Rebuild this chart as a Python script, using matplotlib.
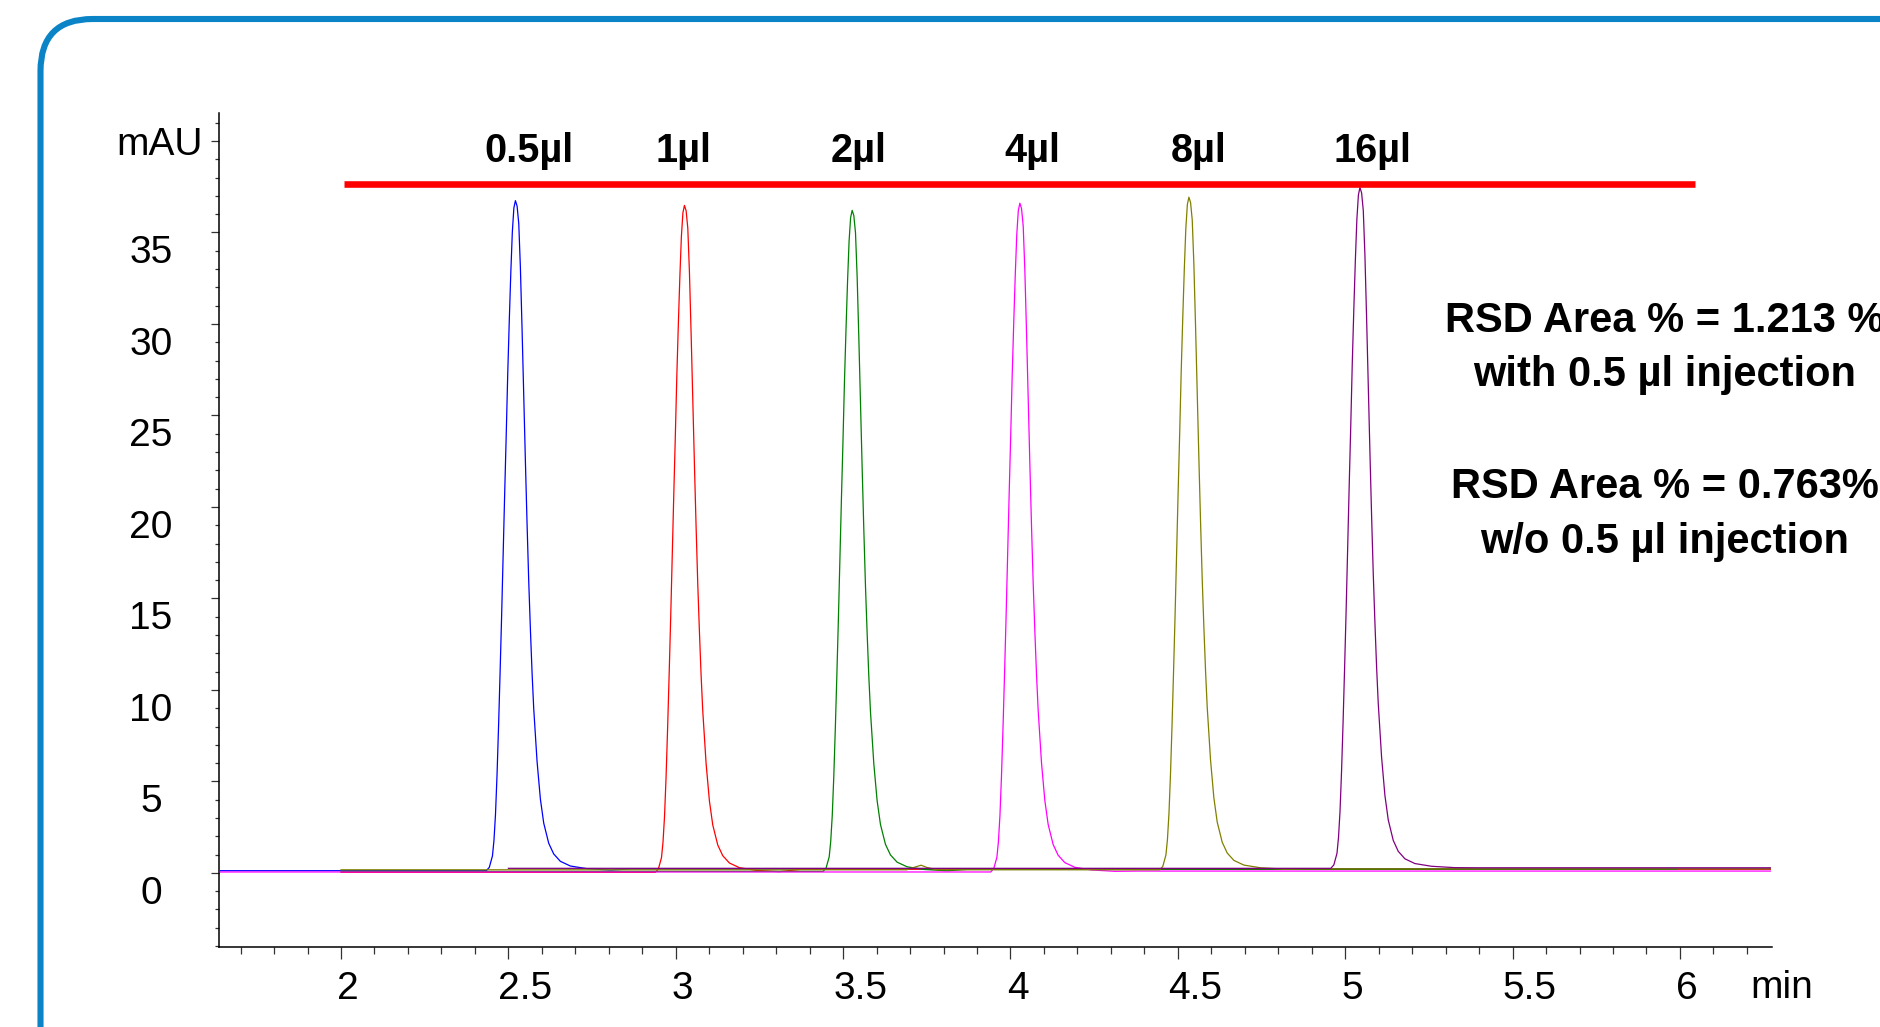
import matplotlib
matplotlib.use('Agg')
import matplotlib.pyplot as plt
from matplotlib.patches import FancyBboxPatch
from matplotlib.transforms import Affine2D, IdentityTransform
from matplotlib.ticker import MultipleLocator, FixedLocator

W, H = 1880, 1027

# ---------------- data ----------------
trace_colors = ['#0000ff', '#ff0000', '#008000', '#ff00ff', '#808000', '#800080']
injection_labels = ['0.5µl', '1µl', '2µl', '4µl', '8µl', '16µl']
apex_times = [2.521, 3.026, 3.527, 4.028, 4.533, 5.044]        # min
apex_heights = [36.74, 36.48, 36.21, 36.60, 36.93, 37.46]      # mAU
trace_starts = [1.64, 2.00, 2.00, 1.64, 2.00, 2.50]
trace_ends = [6.27, 6.27, 5.99, 6.27, 6.27, 6.27]
baseline_before = [0.12, 0.03, 0.08, 0.05, 0.17, 0.25]
baseline_after = [0.22, 0.20, 0.20, 0.10, 0.22, 0.28]

# peak shape: time from apex (min), fraction of peak height
profile_offsets = [-0.0870, -0.0780, -0.0686, -0.0641, -0.0595, -0.0549, -0.0503,
                   -0.0458, -0.0412, -0.0366, -0.0320, -0.0275, -0.0229, -0.0183,
                   -0.0137, -0.0092, -0.0046, 0.0000,
                   0.0050, 0.0100, 0.0149, 0.0199, 0.0249, 0.0299, 0.0348, 0.0398,
                   0.0448, 0.0498, 0.0547, 0.0647, 0.0746, 0.0846, 0.0995, 0.1144,
                   0.1343, 0.1642, 0.2139, 0.2836]
profile_fraction = [0.000, 0.005, 0.022, 0.045, 0.084, 0.143, 0.216,
                    0.295, 0.380, 0.472, 0.564, 0.649, 0.742, 0.821,
                    0.893, 0.953, 0.989, 1.000,
                    0.992, 0.966, 0.900, 0.808, 0.709, 0.610, 0.518, 0.432,
                    0.360, 0.295, 0.242, 0.163, 0.107, 0.071, 0.041, 0.025,
                    0.014, 0.007, 0.003, 0.001]

# small baseline bump seen on the olive trace
bump_times = [3.69, 3.715, 3.733, 3.75, 3.78]
bump_values = [0.17, 0.32, 0.42, 0.30, 0.17]

label_times = [2.560, 3.022, 3.545, 4.064, 4.561, 5.080]
label_level = 38.85
marker_bar_times = [2.01, 6.046]
marker_bar_level = 37.64

x_major = [2, 2.5, 3, 3.5, 4, 4.5, 5, 5.5, 6]
x_labels = ['2', '2.5', '3', '3.5', '4', '4.5', '5', '5.5', '6']
y_major = [0, 5, 10, 15, 20, 25, 30, 35, 40]
y_labels = ['0', '5', '10', '15', '20', '25', '30', '35', 'mAU']

rsd_lines = ['RSD Area % = 1.213 %', 'with 0.5 µl injection',
             'RSD Area % = 0.763%', 'w/o 0.5 µl injection']

# ---------------- figure ----------------
plt.rcParams['font.family'] = ['Liberation Sans', 'DejaVu Sans']
fig = plt.figure(figsize=(W / 100, H / 100), dpi=100)
fig.patch.set_facecolor('white')

def px(x, y):
    return x / W, 1 - y / H

# rounded blue frame (runs off the right and bottom edges)
frame = FancyBboxPatch((40.5, -300), 2200, (H - 19) + 300,
                       boxstyle='round,pad=0,rounding_size=52',
                       transform=IdentityTransform(), facecolor='none',
                       edgecolor='#0A84C6', linewidth=4.4)
fig.patches.append(frame)

ax_left, ax_right, ax_top, ax_bottom = 219, 1772, 113, 947
ax = fig.add_axes([ax_left / W, (H - ax_bottom) / H,
                   (ax_right - ax_left) / W, (ax_bottom - ax_top) / H])
ax.set_facecolor('none')
ax.set_xlim(1.6355, 6.275)
ax.set_ylim(-4.05, 41.53)

for sp in ['top', 'right']:
    ax.spines[sp].set_visible(False)
for sp in ['left', 'bottom']:
    ax.spines[sp].set_linewidth(1.1)
    ax.spines[sp].set_color('black')

# traces
for i in range(len(apex_times)):
    t0, h = apex_times[i], apex_heights[i]
    pre, post = baseline_before[i], baseline_after[i]
    xs = [trace_starts[i]]
    ys = [pre]
    if i == 4:
        xs += bump_times
        ys += bump_values
    xs += [t0 + o for o in profile_offsets]
    ys += [pre + (h - pre) * f for f in profile_fraction]
    xs += [t0 + 0.35, trace_ends[i]]
    ys += [post, post]
    ax.plot(xs, ys, color=trace_colors[i], lw=0.9, zorder=3,
            solid_joinstyle='round')

# red marker bar
ax.plot(marker_bar_times, [marker_bar_level] * 2, color='#ff0000', lw=4.75,
        solid_capstyle='butt', zorder=4)

# peak labels
for t, lab in zip(label_times, injection_labels):
    ax.text(t, label_level, lab, ha='center', va='baseline', fontsize=28.5,
            fontweight='bold', color='black')

# ticks
ax.xaxis.set_major_locator(FixedLocator(x_major))
ax.xaxis.set_minor_locator(MultipleLocator(0.1))
ax.yaxis.set_major_locator(FixedLocator(y_major))
ax.yaxis.set_minor_locator(MultipleLocator(1))
ax.set_xticks(x_major, x_labels)
ax.set_yticks(y_major, y_labels)
ax.tick_params(axis='x', which='major', direction='out', length=8.6, width=0.9,
               color='#333333', labelsize=28, pad=8.8)
ax.tick_params(axis='x', which='minor', direction='out', length=5.0, width=0.9,
               color='#333333')
ax.tick_params(axis='y', which='major', direction='out', length=5.8, width=0.9,
               color='#333333', labelsize=28, pad=43.2)
ax.tick_params(axis='y', which='minor', direction='out', length=2.6, width=0.9,
               color='#333333')

for lab in ax.get_xticklabels():
    txt = lab.get_text()
    dx = 17 if '.' in txt else 7
    lab.set_transform(lab.get_transform() + Affine2D().translate(dx, 0))
for lab in ax.get_yticklabels():
    lab.set_horizontalalignment('center')
    if lab.get_text() == 'mAU':
        lab.set_transform(lab.get_transform() + Affine2D().translate(9, 0))
    else:
        lab.set_transform(lab.get_transform() + Affine2D().translate(0, -17))

# axis unit
fig.text(*px(1782, 998), 'min', ha='center', va='baseline', fontsize=28)

# RSD annotations
rsd_baselines = [331.7, 386, 498, 553]
for line, yb in zip(rsd_lines, rsd_baselines):
    fig.text(*px(1665, yb), line, ha='center', va='baseline', fontsize=30,
             fontweight='bold')

fig.savefig('out.png', dpi=100, facecolor='white')
